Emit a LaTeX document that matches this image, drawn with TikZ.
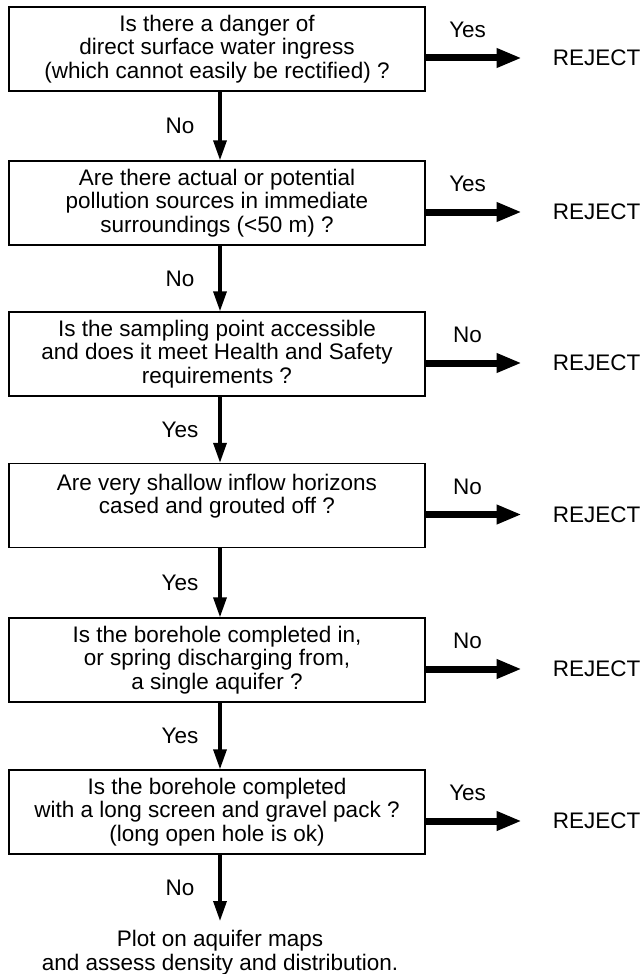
\documentclass[tikz,border=0pt]{standalone}
\usepackage{fontspec}
\setmainfont{Liberation Sans}
\usetikzlibrary{arrows.meta,calc}
\begin{document}
\begin{tikzpicture}[x=1pt,y=-1pt,
  txt/.style={font=\fontsize{22.5}{23.5}\selectfont},
  question/.style={txt, draw, line width=1.4pt, minimum width=416pt,
    minimum height=84pt, align=center, inner sep=0pt},
  flow/.style={line width=3.4pt, -{Triangle[length=20pt 0 0, width=13pt 0 0]}},
  rejectarrow/.style={line width=7pt, shorten >=31pt,
    -{Triangle[length=25pt 0 0, width=18pt 0 0]}},
  lbl/.style={txt, inner sep=0pt},
  hlabel/.style={lbl, pos=0.33, yshift=28pt},
  vlabel/.style={lbl, midway, xshift=-40pt},
]
\useasboundingbox (0,0) rectangle (641,974);

% x position of the vertical flow line
\coordinate (ax) at (220,0);

% decision boxes
\node[question] (q1) at (217,49)
  {Is there a danger of\\direct surface water ingress\\(which cannot easily be rectified) ?};
\node[question] (q2) at (217,203)
  {Are there actual or potential\\pollution sources in immediate\\surroundings (<50 m) ?};
\node[question] (q3) at (217,354)
  {Is the sampling point accessible\\and does it meet Health and Safety\\requirements ?};
\node[question] (q4) at (217,505.5)
  {Are very shallow inflow horizons\\cased and grouted off ?\\\mbox{}};
\node[question] (q5) at (217,660)
  {Is the borehole completed in,\\or spring discharging from,\\a single aquifer ?};
\node[question] (q6) at (217,812)
  {Is the borehole completed\\with a long screen and gravel pack ?\\(long open hole is ok)};

% final outcome
\node[lbl, align=center, anchor=north] (plot) at (220,930)
  {Plot on aquifer maps\\and assess density and distribution.};

% rejection outcomes, level with the exit point of each box
\foreach \i in {1,...,6} {
  \node[lbl, anchor=west] (r\i) at ($(q\i.east)+(127,9)$) {REJECT};
}

% rejection arrows
\draw[rejectarrow] ([yshift=-9pt]q1.east) -- (r1.west) node[hlabel] {Yes};
\draw[rejectarrow] ([yshift=-9pt]q2.east) -- (r2.west) node[hlabel] {Yes};
\draw[rejectarrow] ([yshift=-9pt]q3.east) -- (r3.west) node[hlabel] {No};
\draw[rejectarrow] ([yshift=-9pt]q4.east) -- (r4.west) node[hlabel] {No};
\draw[rejectarrow] ([yshift=-9pt]q5.east) -- (r5.west) node[hlabel] {No};
\draw[rejectarrow] ([yshift=-9pt]q6.east) -- (r6.west) node[hlabel] {Yes};

% main flow
\draw[flow] (q1.south -| ax) -- (q2.north -| ax) node[vlabel] {No};
\draw[flow] (q2.south -| ax) -- (q3.north -| ax) node[vlabel] {No};
\draw[flow] (q3.south -| ax) -- (q4.north -| ax) node[vlabel] {Yes};
\draw[flow] (q4.south -| ax) -- (q5.north -| ax) node[vlabel] {Yes};
\draw[flow] (q5.south -| ax) -- (q6.north -| ax) node[vlabel] {Yes};
\draw[flow] (q6.south -| ax) -- ([yshift=9pt]plot.north) node[vlabel] {No};
\end{tikzpicture}
\end{document}
